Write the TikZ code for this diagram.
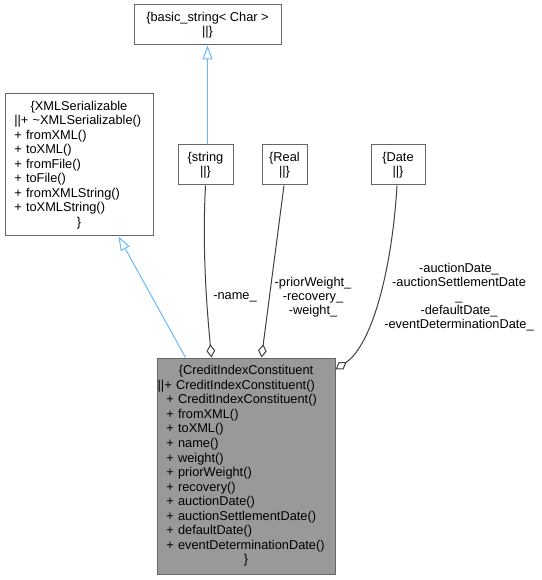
\documentclass[tikz,border=0pt]{standalone}
\usepackage{fontspec}
\setmainfont{Liberation Sans}
\usetikzlibrary{arrows.meta,calc}

\definecolor{boxline}{HTML}{666666}
\definecolor{boxfill}{HTML}{999999}
\definecolor{inhblue}{HTML}{63B8FF}
\definecolor{usegrey}{HTML}{404040}

\tikzset{every picture/.style={line width=0.75pt}}
\tikzset{
  classbox/.style={draw=boxline, fill=white, inner xsep=7pt, inner ysep=0pt, align=left,
    font=\fontsize{9.6}{10.9}\selectfont},
  smallbox/.style={draw=boxline, fill=white, inner sep=0pt, align=center,
    font=\fontsize{9.6}{10.8}\selectfont},
  edgelabel/.style={inner sep=0pt, align=center, font=\fontsize{9.6}{10.6}\selectfont},
  inherit/.style={draw=inhblue, -{Triangle[open, length=10.5pt, width=7.5pt]}},
  uses/.style={draw=usegrey, {Diamond[open, length=10pt, width=6.5pt]}-}
}
\newcommand{\midline}[1]{\leavevmode\hfill #1\hfill\null}

\begin{document}
\begin{tikzpicture}[x=0.75pt,y=0.75pt,yscale=-1,xscale=1]
    \useasboundingbox (0,0) rectangle (541,580);

    %Shape: Class basic_string
    \node [smallbox, minimum width=110.25pt, minimum height=30pt] (bstr) at (207.5,25)
      {\{basic\_string< Char >\\||\}};
    %Shape: Class XMLSerializable
    \node [classbox, text width=97pt, minimum height=106.5pt] (xmlser) at (79,165)
      {\midline{\{XMLSerializable}\\
       ||+ \textasciitilde XMLSerializable()\\
       + fromXML()\\
       + toXML()\\
       + fromFile()\\
       + toFile()\\
       + fromXMLString()\\
       + toXMLString()\\
       \midline{\}}};
    %Shape: Class string
    \node [smallbox, minimum width=41.25pt, minimum height=30pt] (strg) at (205.5,165)
      {\{string\\||\}};
    %Shape: Class Real
    \node [smallbox, minimum width=33.75pt, minimum height=30pt] (real) at (284.5,165)
      {\{Real\\||\}};
    %Shape: Class Date
    \node [smallbox, minimum width=40.5pt, minimum height=30pt] (date) at (398,165)
      {\{Date\\||\}};
    %Shape: Class CreditIndexConstituent
    \node [classbox, fill=boxfill, text width=119.5pt, minimum height=162pt] (cic) at (246,466)
      {\midline{\{CreditIndexConstituent}\\
       \hspace*{-6.5pt}||+ CreditIndexConstituent()\\
       + CreditIndexConstituent()\\
       + fromXML()\\
       + toXML()\\
       + name()\\
       + weight()\\
       + priorWeight()\\
       + recovery()\\
       + auctionDate()\\
       + auctionSettlementDate()\\
       + defaultDate()\\
       + eventDeterminationDate()\\
       \midline{\}}};

    %Inheritance
    \draw [inherit] ($(strg.north)+(2,0)$) -- (bstr.south);
    \draw [inherit] ($(cic.north west)+(29,0)$) -- ($(xmlser.south west)+(114,0)$);

    %Usage
    \draw [uses] ($(cic.north west)+(55,0)$) .. controls (207,310) and (202,250) .. (strg.south);
    \draw [uses] ($(cic.north west)+(105,0)$) -- ($(real.south)+(-0.5,0)$);
    \draw [uses] ($(cic.north east)+(0,12)$) .. controls (372,345) and (392,270) .. ($(date.south)+(-1,0)$);

    % Text Node
    \node [edgelabel] (lname) at (235,297) {-name\_};
    % Text Node
    \node [edgelabel] (lreal) at (313,297) {-priorWeight\_\\-recovery\_\\-weight\_};
    % Text Node
    \node [edgelabel] (ldate) at (459,297)
      {-auctionDate\_\\-auctionSettlementDate\\\_\\-defaultDate\_\\-eventDeterminationDate\_};

\end{tikzpicture}
\end{document}
